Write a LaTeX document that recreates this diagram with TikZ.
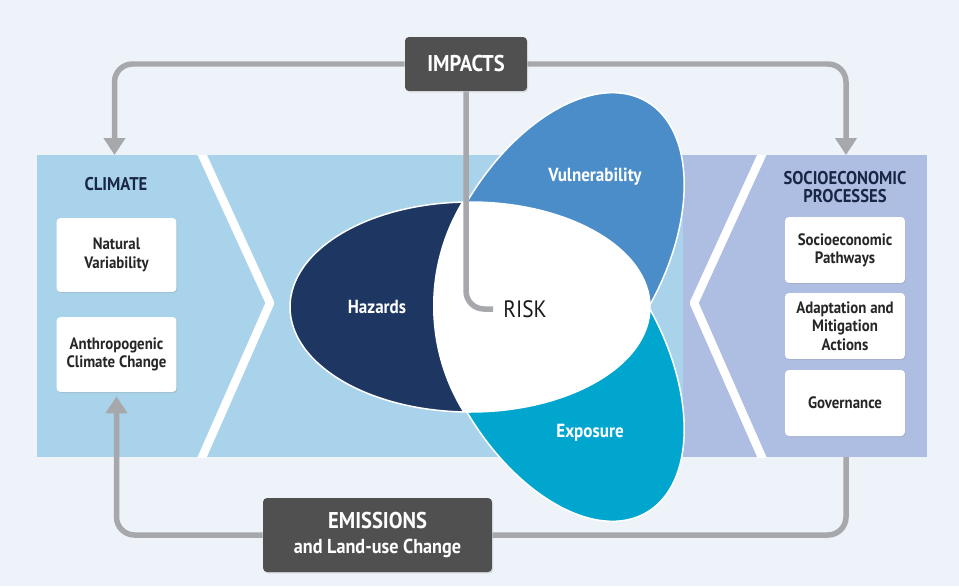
\documentclass[tikz,border=0pt]{standalone}
\usepackage{fontspec}
\setmainfont{PT Sans}[FakeStretch=0.9]
\usetikzlibrary{arrows.meta,shadows}
\definecolor{bgcol}{RGB}{238,243,250}
\definecolor{climcol}{RGB}{169,211,234}
\definecolor{sociocol}{RGB}{174,190,226}
\definecolor{hazcol}{RGB}{30,55,98}
\definecolor{vulcol}{RGB}{74,141,200}
\definecolor{expcol}{RGB}{0,166,206}
\definecolor{linkcol}{RGB}{166,168,171}
\definecolor{boxcol}{RGB}{80,80,80}
\definecolor{titlecol}{RGB}{26,38,70}
\newcommand\hazardpath{(470,279) ellipse [x radius=180, y radius=105]}
\newcommand\vulnpath{(556.25,328.8) ellipse [x radius=180, y radius=105, rotate=60]}
\newcommand\exppath{(556.25,229.2) ellipse [x radius=180, y radius=105, rotate=-60]}
\begin{document}
\begin{tikzpicture}[x=0.02cm, y=0.02cm,
  darkbox/.style={fill=boxcol, rounded corners=0.08cm, text=white, inner sep=0pt, align=center, drop shadow={opacity=0.25, shadow xshift=0.6pt, shadow yshift=-0.8pt}},
  whitebox/.style={fill=white, rounded corners=0.08cm, text=black!85, inner sep=0pt, minimum width=2.4cm, align=center, font=\fontsize{9.4}{10.4}\selectfont\bfseries, drop shadow={opacity=0.2, shadow xshift=0.5pt, shadow yshift=-0.7pt}},
  title/.style={text=titlecol, align=center, font=\fontsize{10.5}{10.4}\selectfont\bfseries},
  petal/.style={text=white, font=\fontsize{10.8}{12}\selectfont\bfseries},
  link/.style={draw=linkcol, line width=0.11cm, rounded corners=0.36cm},
  tip/.style={-{Triangle[width=0.42cm, length=0.34cm]}},
  chevron/.style={draw=white, line width=0.17cm, line join=round}]
\fill[bgcol] (0,0) rectangle (959,586);
\useasboundingbox (0,0) rectangle (959,586);
\fill[climcol] (37,129) rectangle (683,431);
\fill[sociocol] (683,129) rectangle (927,431);
\begin{scope}
\clip (37,129) rectangle (927,431);
\draw[chevron] (200,436) -- (270,283) -- (200,124);
\draw[chevron] (764,436) -- (694,283) -- (764,124);
\end{scope}
\filldraw[fill=expcol, draw=white, line width=0.03cm] \exppath;
\begin{scope}
\clip (280,279) rectangle (700,500);
\filldraw[fill=vulcol, draw=white, line width=0.03cm] \vulnpath;
\end{scope}
\filldraw[fill=hazcol, draw=white, line width=0.03cm] \hazardpath;
\begin{scope}
\clip \hazardpath;
\fill[white] (635,280) circle [radius=202];
\end{scope}
\node[title] (climate) at (116,402) {CLIMATE};
\node[title] (socio) at (845,399) {SOCIOECONOMIC\\PROCESSES};
\node[whitebox, minimum height=1.48cm] (natvar) at (116.5,331) {Natural\\Variability};
\node[whitebox, minimum height=1.5cm] (anthro) at (116.5,231.5) {Anthropogenic\\Climate Change};
\node[whitebox, minimum height=1.32cm] (pathways) at (845,336) {Socioeconomic\\Pathways};
\node[whitebox, minimum height=1.32cm] (adapt) at (845,260) {Adaptation and\\Mitigation\\Actions};
\node[whitebox, minimum height=1.32cm] (govern) at (845,183) {Governance};
\node[petal] (hazlabel) at (377,279) {Hazards};
\node[petal] (vullabel) at (595,409) {Vulnerability};
\node[petal] (explabel) at (590,153) {Exposure};
\node[text=black!90, inner xsep=0.2cm, font=\fontsize{13.5}{14}\selectfont] (risk) at (525,277) {RISK};
\node[darkbox, minimum width=2.44cm, minimum height=1.08cm, font=\fontsize{13}{14}\selectfont\bfseries] (impacts) at (466,522) {IMPACTS};
\node[darkbox, minimum width=4.58cm, minimum height=1.48cm, font=\fontsize{13}{14.2}\selectfont\bfseries] (emissions) at (377.5,51) {EMISSIONS\\{\fontsize{11.5}{14.2}\selectfont and Land-use Change}};
\coordinate (climtop) at (114.5,431);
\coordinate (socitop) at (846,431);
\coordinate (socibot) at (846,129);
\draw[link, tip] (impacts.west) -| (climtop);
\draw[link, tip] (impacts.east) -| (socitop);
\draw[link] (impacts.south) |- (risk.west);
\draw[link] (socibot) |- (emissions.east);
\draw[link, tip, shorten >=0.08cm] (emissions.west) -| (anthro.south);
\end{tikzpicture}
\end{document}
